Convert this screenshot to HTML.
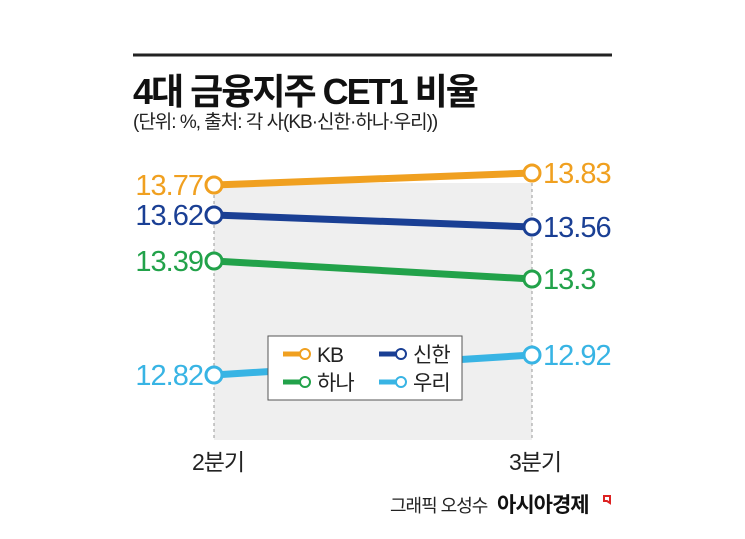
<!DOCTYPE html>
<html><head><meta charset="utf-8"><style>
body{margin:0;background:#fff;}
svg text{font-family:"Liberation Sans","Noto Sans CJK KR",sans-serif;}
</style></head><body>
<svg width="745" height="534" viewBox="0 0 745 534">
<line x1="133" y1="55" x2="612" y2="55" stroke="#222" stroke-width="3"/>
<text x="133" y="104" font-size="36" font-weight="bold" fill="#111" letter-spacing="-2">4대 금융지주 CET1 비율</text>
<text x="133" y="128" font-size="19" fill="#222" letter-spacing="-1">(단위: %, 출처: 각 사(KB·신한·하나·우리))</text>
<rect x="214" y="183" width="318" height="257" fill="#efefef"/>
<g id="grid"></g>
<g id="series"></g>
<g>
<rect x="268" y="336" width="194" height="64" fill="#fff" stroke="#555" stroke-width="1"/>
<g id="legend-items"></g>
</g>
<text x="218" y="470" font-size="23" fill="#222" text-anchor="middle" letter-spacing="-1">2분기</text>
<text x="535" y="470" font-size="23" fill="#222" text-anchor="middle" letter-spacing="-1">3분기</text>
<text x="390" y="512" font-size="18" fill="#222" letter-spacing="-1">그래픽 오성수</text>
<text x="497" y="512" font-size="21" font-weight="bold" fill="#111" letter-spacing="-1">아시아경제</text>
<path d="M604 496 h6 v7 l-3 -2 h-3 z" fill="none" stroke="#d22" stroke-width="2"/>
</svg>
<script>
const categories=["2분기","3분기"];
const seriesNames=["KB","신한","하나","우리"];
const kbValues=[13.77,13.83];
const shinhanValues=[13.62,13.56];
const hanaValues=[13.39,13.3];
const wooriValues=[12.82,12.92];
const valueLabels=[["13.77","13.83"],["13.62","13.56"],["13.39","13.3"],["12.82","12.92"]];
const colors=["#f0a020","#1a3f94","#22a24a","#38b4e4"];
const allValues=[kbValues,shinhanValues,hanaValues,wooriValues];
const NS="http://www.w3.org/2000/svg";
function xScale(i){return 214+i*318;}
function yScale(v){return 185-(v-13.77)*200;}
function mk(tag,attrs,parent){const e=document.createElementNS(NS,tag);for(const k in attrs)e.setAttribute(k,attrs[k]);parent.appendChild(e);return e;}
const grid=document.getElementById('grid');
categories.forEach((c,i)=>{
  const l=mk('line',{x1:xScale(i),x2:xScale(i),y1:183,y2:440,stroke:'#999','stroke-width':1,'stroke-dasharray':'3,3'},grid);
  
  
});
const sg=document.getElementById('series');
allValues.forEach((vals,s)=>{
  const g=mk('g',{},sg);
  
  
  const ln=mk('line',{x1:xScale(0),y1:yScale(vals[0]),x2:xScale(1),y2:yScale(vals[1]),stroke:colors[s],'stroke-width':7},g);
  
  
  vals.forEach((v,i)=>{
    const c=mk('circle',{cx:xScale(i),cy:yScale(v),r:8,fill:'#fff',stroke:colors[s],'stroke-width':3},g);
    
    
    const t=mk('text',{x:i==0?xScale(i)-11:xScale(i)+11,y:yScale(v)+10,'font-size':29,fill:colors[s],'text-anchor':i==0?'end':'start','letter-spacing':'-1'},g);
    t.textContent=valueLabels[s][i];
    
    
  });
});
const lg=document.getElementById('legend-items');
seriesNames.forEach((n,s)=>{
  const lx=s%2==0?283:379, ly=s<2?354:382;
  const g=mk('g',{},lg);
  
  
  mk('line',{x1:lx,y1:ly,x2:lx+20,y2:ly,stroke:colors[s],'stroke-width':5},g);
  mk('circle',{cx:lx+22,cy:ly,r:5,fill:'#fff',stroke:colors[s],'stroke-width':2},g);
  const t=mk('text',{x:lx+34,y:ly+8,'font-size':21,fill:'#222','letter-spacing':'-1'},g);
  t.textContent=n;
});
</script>
</body></html>
